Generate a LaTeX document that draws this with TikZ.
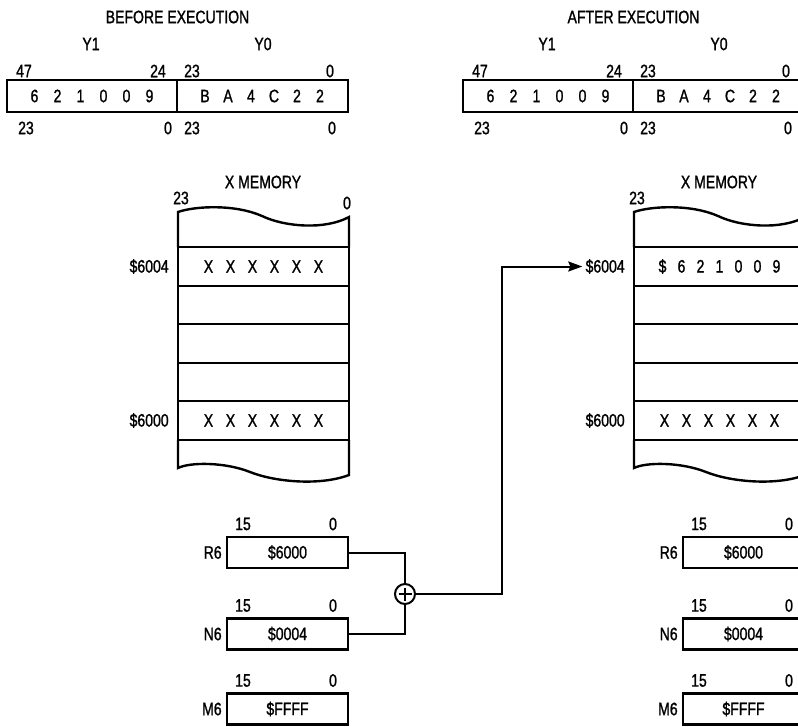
\documentclass[tikz,border=0pt]{standalone}
\usepackage{fontspec}
\setmainfont{Liberation Sans}[FakeStretch=0.78,FakeBold=1.2]
\usetikzlibrary{positioning,arrows.meta}
\newcommand\dslot[2][23pt]{\makebox[#1]{#2}}
\newcommand\xdata{\dslot[22pt]X\dslot[22pt]X\dslot[22pt]X\dslot[22pt]X\dslot[22pt]X\dslot[22pt]X}
\newcommand\newdata{\dslot[19pt]\$\dslot[19pt]6\dslot[19pt]2\dslot[19pt]1\dslot[19pt]0\dslot[19pt]0\dslot[19pt]9}
\begin{document}
\begin{tikzpicture}[x=1pt,y=-1pt,
  every node/.style={font=\fontsize{18}{20}\selectfont,outer sep=0pt},
  box/.style={draw,line width=2.4pt,inner sep=0pt},
  ybox/.style={box,minimum width=170.5pt,minimum height=32pt},
  reg/.style={box,minimum width=121pt,minimum height=31pt},
  row/.style={box,minimum width=171pt,minimum height=38.5pt},
  bit/.style={inner sep=0pt},
  wire/.style={line width=2pt}]
\useasboundingbox (0,0) rectangle (798,726);
\clip (0,0) rectangle (798,726);
\foreach \dx/\p/\ttl/\val in {0/b/BEFORE EXECUTION/\xdata,456/a/AFTER EXECUTION/\newdata}{
\begin{scope}[xshift=\dx]
  % Y register
  \node (\p title) at (177.5,17) {\ttl};
  \node (\p ly1) at (91,44) {Y1};
  \node (\p ly0) at (263,44) {Y0};
  \node[ybox] (\p y1) at (92,96) {\dslot6\dslot2\dslot1\dslot0\dslot0\dslot9};
  \node[ybox,right=0pt of \p y1] (\p y0) {\dslot B\dslot A\dslot4\dslot C\dslot2\dslot2\hspace{18pt}};
  \node[bit] (\p t47) at (24,71) {47};
  \node[bit] (\p t24) at (158,71) {24};
  \node[bit] (\p t23) at (192,71) {23};
  \node[bit] (\p t0) at (330,71) {0};
  \node[bit] (\p u23) at (26,128) {23};
  \node[bit] (\p u0) at (168,128) {0};
  \node[bit] (\p v23) at (192,128) {23};
  \node[bit] (\p v0) at (332,128) {0};
  % X memory
  \node (\p mtitle) at (263,182) {X MEMORY};
  \node[bit] (\p m23) at (181,198) {23};
  \ifnum\dx=0 \node[bit] (\p m0) at (347,203) {0};\fi
  \node[row] (\p row4) at (263.5,266.5) {\val};
  \node[row,below=0pt of \p row4] (\p row3) {};
  \node[row,below=0pt of \p row3] (\p row2) {};
  \node[row,below=0pt of \p row2] (\p row1) {};
  \node[row,below=0pt of \p row1] (\p row0) {\xdata};
  \node[left=6pt of \p row4] (\p 6004) {\$6004};
  \node[left=6pt of \p row0] (\p 6000) {\$6000};
  \draw[line width=2.4pt] (\p row4.north west) -- (178,212)
    .. controls (195,206) and (235,204) .. (262,216)
    .. controls (285,227) and (325,230) .. (349,217) -- (\p row4.north east);
  \draw[line width=2.4pt] (\p row0.south west) -- (178,468)
    .. controls (190,462) and (225,462) .. (250,472)
    .. controls (275,482) and (320,486) .. (349,475) -- (\p row0.south east);
  % address registers
  \foreach \r/\y/\v/\t in {r6/552.5/\$6000/R6,n6/634/\$0004/N6,m6/709/\$FFFF/M6}{
    \node[reg] (\p\r) at (287.5,\y) {\v};
    \node[left=2pt of \p\r] (\p\r l) {\t};
    \node[bit] (\p\r hi) at ([shift={(16,-13)}]\p\r.north west) {15};
    \node[bit] (\p\r lo) at ([shift={(-15,-13)}]\p\r.north east) {0};
  }
\end{scope}
}
% adder and effective address
\node[draw,circle,line width=2pt,minimum size=20pt,inner sep=0pt] (add) at (405,594) {};
\draw[line width=1.8pt] ([yshift=6.5pt]add.center) -- ([yshift=-6.5pt]add.center);
\draw[line width=1.8pt] ([xshift=-6.5pt]add.center) -- ([xshift=6.5pt]add.center);
\draw[wire] (br6.east) -| (add.north);
\draw[wire] (bn6.east) -| (add.south);
\coordinate (bend) at (502,594);
\draw[wire,-{Stealth[length=14pt,width=10pt,inset=2pt]}] (add.east) -- (bend) |- (a6004.west);
\end{tikzpicture}
\end{document}
